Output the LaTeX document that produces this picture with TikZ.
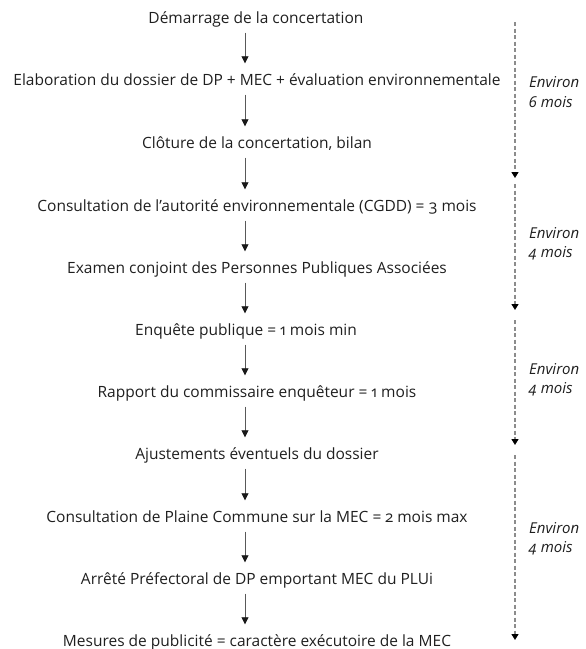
\documentclass[tikz,border=0pt]{standalone}
\usepackage{fontspec}
\setmainfont[Numbers=OldStyle]{Open Sans}
\usetikzlibrary{arrows.meta}
\begin{document}
\begin{tikzpicture}[x=1pt,y=-1pt,
  stepnode/.style={inner sep=0pt, text height=10pt, text depth=3pt, font=\fontsize{15.5}{17}\selectfont, text=black!88},
  flow/.style={draw=black!65, line width=0.8pt, -{Triangle[length=7pt,width=7pt,fill=black!90,color=black!90]}, shorten <=6pt, shorten >=12pt},
  dur/.style={draw=black!45, line width=1.3pt, dash pattern=on 4pt off 2.5pt, -{Triangle[length=6pt,width=7pt,fill=black,color=black]}},
  durlabel/.style={anchor=west, align=left, inner sep=0pt, font=\fontsize{15}{19.5}\selectfont\itshape, text=black!88}
]
\useasboundingbox (0,0) rectangle (586,649);
\node[stepnode] (s1) at (256,20) {Démarrage de la concertation};
\node[stepnode] (s2) at (257,82) {Elaboration du dossier de DP + MEC + évaluation environnementale};
\node[stepnode] (s3) at (257,145) {Clôture de la concertation, bilan};
\node[stepnode] (s4) at (257,208) {Consultation de l’autorité environnementale (CGDD) = 3 mois};
\node[stepnode] (s5) at (257,270) {Examen conjoint des Personnes Publiques Associées};
\node[stepnode] (s6) at (246,332) {Enquête publique = 1 mois min};
\node[stepnode] (s7) at (257,394) {Rapport du commissaire enquêteur = 1 mois};
\node[stepnode] (s8) at (257,456) {Ajustements éventuels du dossier};
\node[stepnode] (s9) at (257,519) {Consultation de Plaine Commune sur la MEC = 2 mois max};
\node[stepnode] (s10) at (257,581) {Arrêté Préfectoral de DP emportant MEC du PLUi};
\node[stepnode] (s11) at (257,643) {Mesures de publicité = caractère exécutoire de la MEC};
\foreach \a/\b in {s1/s2,s2/s3,s3/s4,s4/s5,s5/s6,s6/s7,s7/s8,s8/s9,s9/s10,s10/s11}
  \draw[flow] (245,0 |- \a.south) -- (245,0 |- \b.north);
\coordinate (d1a) at (515,22);  \coordinate (d1b) at (515,178);
\coordinate (d2a) at (515,184); \coordinate (d2b) at (515,310);
\coordinate (d3a) at (515,320); \coordinate (d3b) at (515,445);
\coordinate (d4a) at (515,455); \coordinate (d4b) at (515,640);
\draw[dur] (d1a) -- (d1b);
\draw[dur] (d2a) -- (d2b);
\draw[dur] (d3a) -- (d3b);
\draw[dur] (d4a) -- (d4b);
\node[durlabel] (l1) at (529,92) {Environ\\6 mois};
\node[durlabel] (l2) at (529,244) {Environ\\4 mois};
\node[durlabel] (l3) at (529,380) {Environ\\4 mois};
\node[durlabel] (l4) at (529,539) {Environ\\4 mois};
\end{tikzpicture}
\end{document}
